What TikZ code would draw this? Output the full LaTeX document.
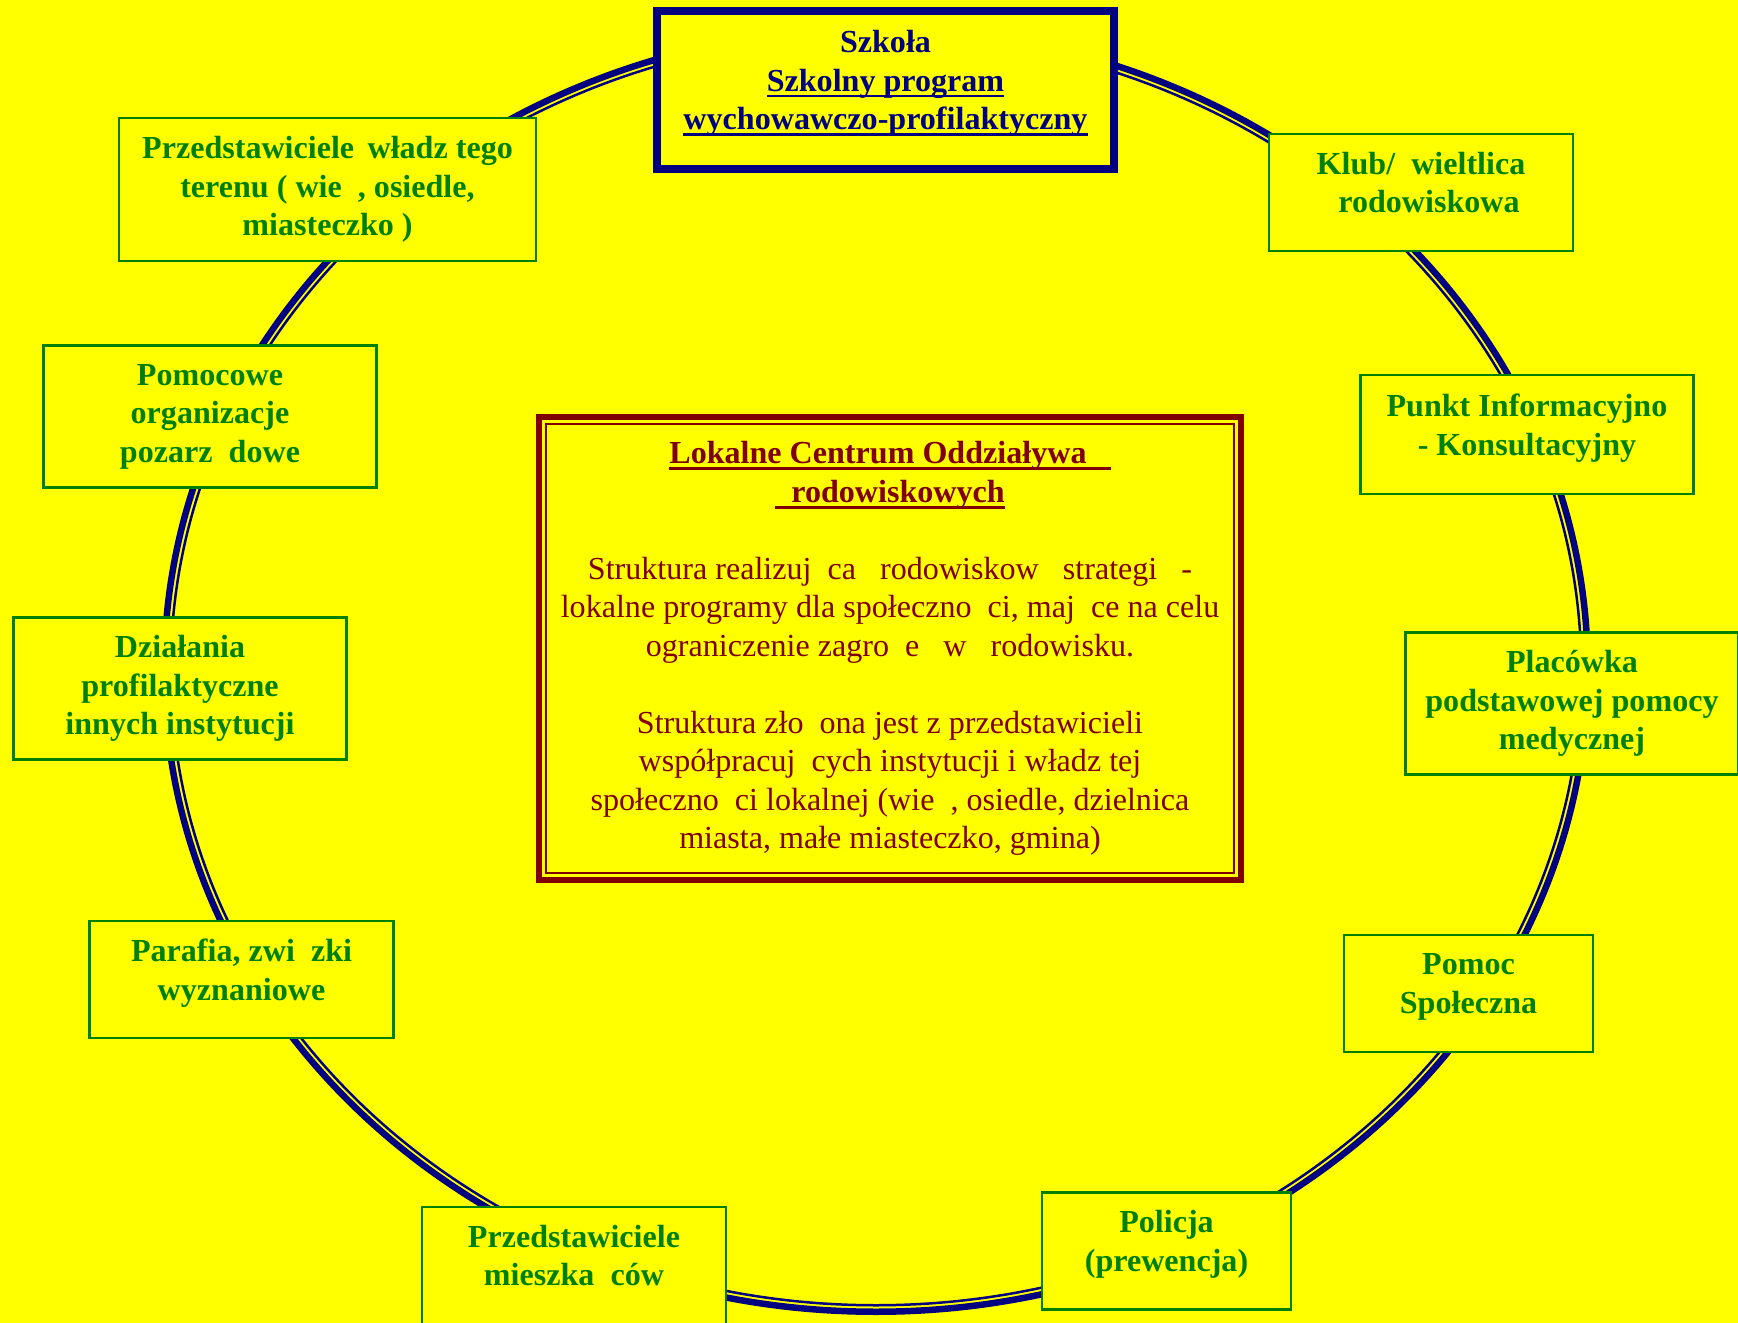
\documentclass[tikz,border=0pt]{standalone}
\usepackage{fontspec}
\setmainfont{Liberation Serif}
\definecolor{tlo}{HTML}{FFFF00}
\definecolor{granat}{HTML}{000080}
\definecolor{zielen}{HTML}{008000}
\definecolor{bordo}{HTML}{800000}
\newsavebox\podkrbox
\newcommand\podkr[1]{\sbox\podkrbox{#1}\rlap{\rule[-1.8pt]{\wd\podkrbox}{0.8pt}}\usebox\podkrbox}

\begin{document}
\begin{tikzpicture}[
    x=0.1mm, y=-0.1mm,
    block/.style={draw=zielen, line width=0.25mm, fill=tlo, text=zielen, align=center,
      inner sep=0pt, outer sep=0pt, font=\fontsize{9.13pt}{10.95pt}\selectfont\bfseries},
    wide/.style={minimum width=33.3mm, minimum height=14.2mm},
    narrow/.style={minimum width=30.4mm, minimum height=11.7mm},
    small/.style={minimum width=24.9mm, minimum height=11.7mm},
    ring/.style={granat}
  ]
    \fill[tlo] (0,0) rectangle (1738,1323);
    \useasboundingbox (0,0) rectangle (1738,1323);

    % pierscien
    \coordinate (mid) at (876,670);
    \draw[ring, line width=0.65mm] (mid) ellipse [x radius=71.175mm, y radius=64.175mm];
    \draw[ring, line width=0.25mm] (mid) ellipse [x radius=70.525mm, y radius=63.525mm];

    \node[draw=granat, line width=0.8mm, fill=tlo, text=granat, align=center, inner sep=0pt, outer sep=0pt,
      font=\fontsize{9.13pt}{10.95pt}\selectfont\bfseries, minimum width=45.7mm, minimum height=15.8mm]
      (szkola) at (885.5,90) {Szkoła\\\podkr{Szkolny program}\\\podkr{wychowawczo-profilaktyczny}\\[-1.85mm]};

    \node[block, minimum width=41.7mm, minimum height=14.3mm] (wladze) at (327.5,189.5)
      {Przedstawiciele\,\ władz tego\\terenu ( wie~~, osiedle,\\miasteczko )};
    \node[block, narrow] (klub) at (1421,192.5) {Klub/~~wieltlica\\~~rodowiskowa\\[-1.85mm]};
    \node[block, wide] (pomocowe) at (210,416.5) {Pomocowe\\organizacje\\pozarz~~dowe};
    \node[block, wide, minimum height=11.9mm] (punkt) at (1527,434.5) {Punkt Informacyjno\\- Konsultacyjny\\[-1.85mm]};
    \node[block, wide] (dzialania) at (180,688.5) {Działania\\profilaktyczne\\innych instytucji};
    \node[block, wide] (placowka) at (1572,703.5) {Placówka\\podstawowej pomocy\\medycznej};
    \node[block, narrow] (parafia) at (241.5,979.5) {Parafia, zwi~~zki\\wyznaniowe\\[-1.85mm]};
    \node[block, small] (pomoc) at (1468.5,993.5) {Pomoc\\Społeczna\\[-1.85mm]};
    \node[block, narrow] (mieszkancy) at (574,1265.5) {Przedstawiciele\\mieszka~~ców\\[-1.85mm]};
    \node[block, small] (policja) at (1166.5,1251) {Policja\\(prewencja)\\[-1.85mm]};

    \node[draw=bordo, line width=0.6mm, fill=tlo, text=bordo, align=center, inner sep=0pt, outer sep=0pt,
      font=\fontsize{9.13pt}{10.95pt}\selectfont, minimum width=70.2mm, minimum height=46.3mm]
      (centrum) at (890,648.5) {\textbf{\podkr{Lokalne Centrum Oddziaływa~~ }}\\
      \textbf{\podkr{~~rodowiskowych}}\\[3.85mm]
      Struktura realizuj~~ca ~~rodowiskow~~ strategi~~ -\\
      lokalne programy dla społeczno~~ci, maj~~ce na celu\\
      ograniczenie zagro~~e~~ w ~~rodowisku.\\[3.85mm]
      Struktura zło~~ona jest z przedstawicieli\\
      współpracuj~~cych instytucji i władz tej\\
      społeczno~~ci lokalnej (wie~~, osiedle, dzielnica\\
      miasta, małe miasteczko, gmina)};
    \draw[bordo, line width=0.2mm] ([shift={(7,7)}]centrum.north west) rectangle ([shift={(-7,-7)}]centrum.south east);
\end{tikzpicture}
\end{document}
